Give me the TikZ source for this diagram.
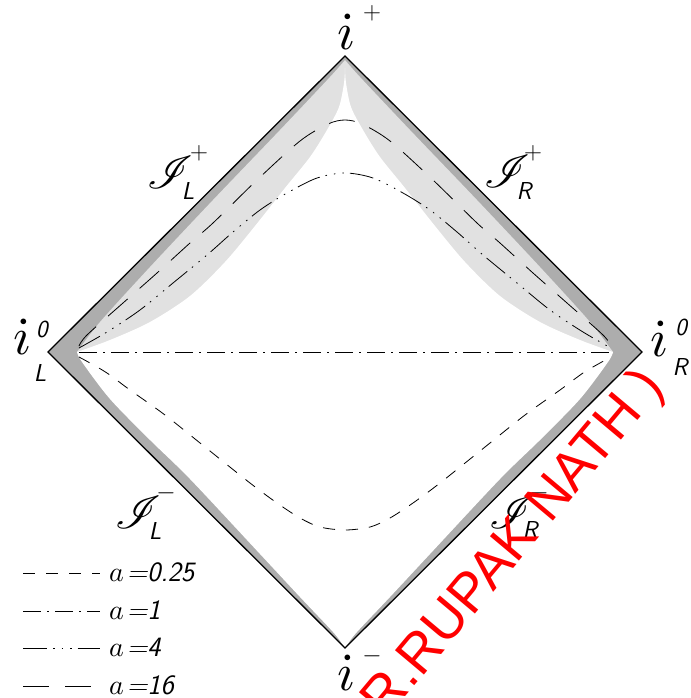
\documentclass[tikz,border=0pt]{standalone}
\usepackage{graphicx}
\usepackage{amsmath}
\usepackage{mathrsfs}
\usepackage{fontspec}
\newfontfamily\wmfont{Liberation Sans}
\definecolor{bandgray}{HTML}{ADADAD}
\definecolor{lightband}{HTML}{E1E1E1}
\newcommand{\bigi}{\scalebox{5.3}{\normalsize$\dot{\imath}$}}
\newcommand{\bigJ}{\scalebox{4.6}{\normalsize$\mathscr{I}$}}
\newcommand{\lega}{\scalebox{2.8}{\normalsize$a$}\kern3pt}
\begin{document}
\begin{tikzpicture}[x=1pt,y=-1pt,
  ilab/.style={inner sep=0pt, anchor=base},
  jlab/.style={inner sep=0pt},
  sml/.style={inner sep=0pt, font=\fontsize{24.5}{28}\selectfont\sffamily\slshape},
  leg/.style={inner sep=0pt, anchor=base west, font=\fontsize{28}{32}\selectfont\sffamily\slshape\addfontfeature{LetterSpace=12}},
  curve/.style={line width=0.8pt},
  dA/.style={dash pattern=on 12pt off 11pt},
  dB/.style={dash pattern=on 18pt off 6pt on 2pt off 6pt},
  dC/.style={dash pattern=on 24pt off 6pt on 1.5pt off 7pt on 1.5pt off 7pt on 1.5pt off 6pt},
  dD/.style={dash pattern=on 26pt off 16pt}]
\useasboundingbox (0,0) rectangle (690,698);
% regions
\fill[bandgray] (345,56) -- (642,352) -- (345,648) -- (48,352) -- cycle;
\fill[lightband] plot[smooth] coordinates {(77,352) (100,322) (150,267) (213,200) (280,130) (330,77) (345,60)}
  -- plot[smooth] coordinates {(345,60) (360,77) (410,130) (477,200) (540,267) (590,322) (613,352)} -- cycle;
\fill[white] plot[smooth] coordinates {(77,352) (110,340) (150,322) (190,296) (225,262) (255,226) (285,188) (310,157) (327,130) (339,107) (344,83) (345,68)}
  -- plot[smooth] coordinates {(345,68) (346,83) (351,107) (363,130) (380,157) (405,188) (435,226) (465,262) (500,296) (540,322) (580,340) (613,352)}
  -- plot[smooth] coordinates {(613,352) (608,362) (580,399) (540,440) (500,479) (430,554) (390,597) (357,632) (347,645) (345,648)}
  -- plot[smooth] coordinates {(345,648) (343,645) (333,632) (300,597) (260,554) (190,479) (150,440) (110,399) (82,362) (77,352)} -- cycle;
% curves
\draw[curve,dD] plot[smooth] coordinates {(79,346) (87,335) (123,303) (157,273) (190,243) (213,223) (257,180) (300,141) (328,124) (345,120) (362,124) (390,141) (433,180) (477,223) (500,243) (533,273) (567,303) (603,335) (611,346)};
\draw[curve,dC] plot[smooth] coordinates {(79,348) (107,332) (140,310) (173,283) (207,255) (233,232) (260,210) (287,193) (317,178) (345,173) (373,178) (403,193) (430,210) (457,232) (483,255) (517,283) (550,310) (583,332) (611,348)};
\coordinate (hL) at (79,352);
\coordinate (hR) at (611,352);
\draw[curve,dB] (hL) -- (hR);
\draw[curve,dA] plot[smooth] coordinates {(79,357) (90,363) (107,373) (130,390) (165,415) (205,447) (250,483) (277,503) (300,518) (320,527) (345,530) (370,527) (390,518) (413,503) (440,483) (485,447) (525,415) (560,390) (583,373) (600,363) (611,357)};
% outline
\draw[line width=1.3pt, line join=miter] (345,56) -- (642,352) -- (345,648) -- (48,352) -- cycle;
% labels: i^+, i^-, i_L^0, i_R^0
\node[ilab] (ip) at (346,50) {\bigi};
\node[sml] (ipS) at (372,13) {$+$};
\node[ilab] (im) at (346,690) {\bigi};
\node[sml] (imS) at (372,656) {$-$};
\node[ilab] (iL) at (22,354) {\bigi};
\node[sml] (iLS) at (42,329) {0};
\node[sml] (iLB) at (40,373) {L};
\node[ilab] (iR) at (659,356) {\bigi};
\node[sml] (iRS) at (681,327) {0};
\node[sml] (iRB) at (680,367) {R};
% labels: scri
\node[jlab] (JLp) at (170,172) {\bigJ};
\node[sml] (JLpS) at (199,153) {$+$};
\node[sml] (JLpB) at (188,191) {L};
\node[jlab] (JRp) at (507,171) {\bigJ};
\node[sml] (JRpS) at (533,153) {$+$};
\node[sml] (JRpB) at (524,191) {R};
\node[jlab] (JLm) at (138,512) {\bigJ};
\node[sml] (JLmS) at (166,493) {$-$};
\node[sml] (JLmB) at (155,531) {L};
\node[jlab] (JRm) at (512,512) {\bigJ};
\node[sml] (JRmS) at (539,493) {$-$};
\node[sml] (JRmB) at (530,530) {R};
% legend
\coordinate (l1a) at (23,573); \coordinate (l1b) at (100,573);
\coordinate (l2a) at (23,611); \coordinate (l2b) at (100,611);
\coordinate (l3a) at (23,648); \coordinate (l3b) at (100,648);
\coordinate (l4a) at (23,686); \coordinate (l4b) at (100,686);
\draw[curve,dA] (l1a) -- (l1b);
\draw[curve,dB] (l2a) -- (l2b);
\draw[curve,dC] (l3a) -- (l3b);
\draw[curve,dD] (l4a) -- (l4b);
\node[leg] (t1) at (109,581) {\lega=0.25};
\node[leg] (t2) at (109,619) {\lega=1};
\node[leg] (t3) at (109,656) {\lega=4};
\node[leg] (t4) at (109,694) {\lega=16};
% watermark
\node[text=red, font=\fontsize{55}{60}\selectfont\wmfont, rotate=50, anchor=base, inner sep=0pt] (wm) at (507,576) {(DR.RUPAK NATH )};
\end{tikzpicture}
\end{document}
